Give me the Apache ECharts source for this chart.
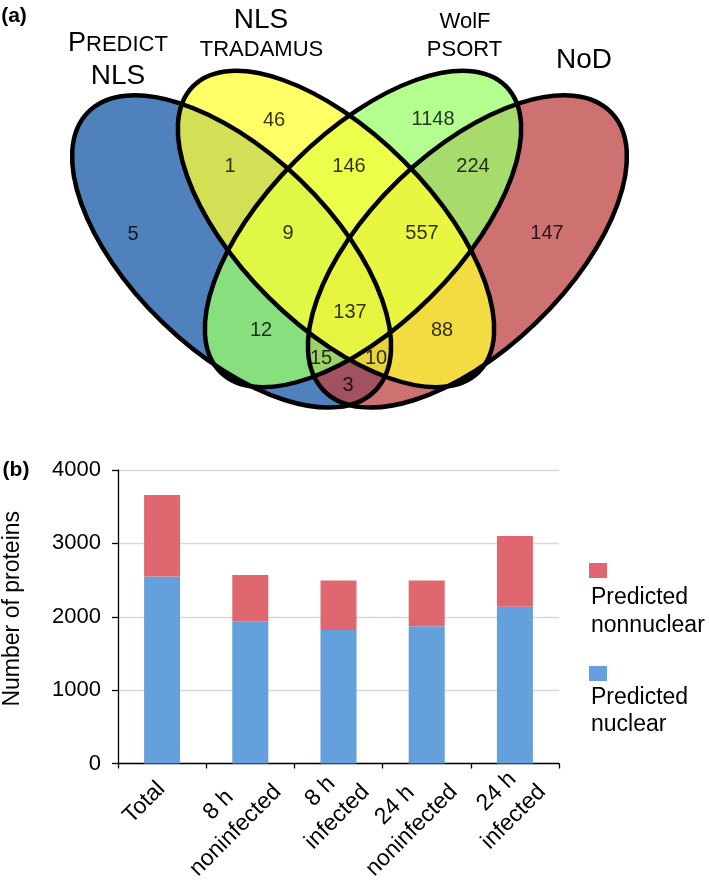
<!DOCTYPE html>
<html>
<head>
<meta charset="utf-8">
<script src="https://cdn.jsdelivr.net/npm/echarts@6/dist/echarts.min.js"></script>
<style>
html,body{margin:0;padding:0;background:#ffffff;}
#chart{width:709px;height:882px;}
</style>
</head>
<body>
<div id="chart"></div>
<script>
// ---------------- data ----------------
// (a) Venn diagram: set names and region counts
const setNames = [['PREDICT', 'NLS'], ['NLS', 'TRADAMUS'], ['WolF', 'PSORT'], ['NoD']];
const regionCounts = [5, 46, 1, 146, 1148, 224, 9, 557, 147, 137, 12, 88, 15, 10, 3];

// (b) stacked bars
const categories = ['Total', '8 h\nnoninfected', '8 h\ninfected', '24 h\nnoninfected', '24 h\ninfected'];
const predictedNuclear = [2550, 1940, 1820, 1870, 2135];
const predictedNonnuclear = [1110, 630, 675, 625, 965];
const seriesNames = ['Predicted nuclear', 'Predicted nonnuclear'];
const yMin = 0, yMax = 4000, yInterval = 1000;

// ---------------- layout / style ----------------
const FONT = '"Liberation Sans", Arial, Helvetica, sans-serif';
const XFS = 23;
// label positions of the Venn regions (in the Venn panel's pixel frame)
const regionLabelPos = [[133,234],[274,120],[230,166],[349,166],[433,119],[473,166],
  [288,233],[422,233],[547,233],[350,312],[261,330],[442,330],[321,358],[376,358],[348,385]];
// ellipse geometry: cx, cy, rx, ry, clockwise tilt (deg); draw order blue, red, green, yellow
const ellipseGeom = [[231.6,251.4,200,99,44],[467.4,251.4,200,99,-44],[363,229,202,96,-45],[336,229,202,96,45]];
const ellipseFill = ['#1457A7', '#BC4242', '#9AFF6A', '#FFFF33'];
const barBlue = '#64A0DC', barRed = '#E0676F';

function ellipseRender(fillMode) {
  return function (params, api) {
    const c = api.coord([api.value(0), api.value(1)]);
    const s = api.size([api.value(2), api.value(3)]);
    return {
      type: 'ellipse',
      x: c[0], y: c[1],
      rotation: -api.value(4) * Math.PI / 180,
      shape: { cx: 0, cy: 0, rx: Math.abs(s[0]), ry: Math.abs(s[1]) },
      style: fillMode
        ? { fill: ellipseFill[params.dataIndex], opacity: 0.75 }
        : { fill: 'none', stroke: '#000', lineWidth: 4.5 }
    };
  };
}

function txt(x, y, text, size, align, bold) {
  return {
    type: 'text', x: x, y: y, silent: true,
    style: {
      text: text, fill: '#000',
      font: (bold ? 'bold ' : '') + size + 'px ' + FONT,
      align: align, verticalAlign: 'middle',
      textAlign: align, textVerticalAlign: 'middle'
    }
  };
}

// rich styles for the rotated category labels (lines centred on each other)
const measureCtx = document.createElement('canvas').getContext('2d');
measureCtx.font = XFS + 'px ' + FONT;
const xRich = {};
categories.forEach(function (cat, i) {
  const lines = cat.split('\n');
  const W = Math.max.apply(null, lines.map(function (l) { return measureCtx.measureText(l).width; }));
  if (lines.length > 1) {
    xRich['f' + i] = { fontSize: XFS, fontFamily: FONT, color: '#000', lineHeight: 30, align: 'center',
      padding: [0, Math.max(0, W - 59), 0, 0] };
    xRich['c' + i] = { fontSize: XFS, fontFamily: FONT, color: '#000', lineHeight: 30, align: 'center',
      padding: [0, Math.max(0, W - 47), 0, 0] };
  } else {
    xRich['c' + i] = { fontSize: XFS, fontFamily: FONT, color: '#000', align: 'center',
      padding: [0, Math.max(0, W - 12), 14, 0] };
  }
});

const chart = echarts.init(document.getElementById('chart'), null, { renderer: 'canvas' });

const option = {
  animation: false,
  backgroundColor: '#ffffff',
  textStyle: { fontFamily: FONT },
  grid: [
    { left: 0, top: 0, width: 709, height: 440, outerBoundsMode: 'none' },
    { left: 118, top: 470, width: 441, height: 293.5, outerBoundsMode: 'none' }
  ],
  xAxis: [
    { type: 'value', gridIndex: 0, min: 0, max: 709, show: false },
    {
      type: 'category', gridIndex: 1, data: categories,
      axisLine: { show: true, lineStyle: { color: '#000', width: 1.3 } },
      axisTick: { show: true, interval: 0, length: 5, lineStyle: { color: '#000', width: 1.3 } },
      splitLine: { show: false },
      axisLabel: {
        interval: 0, rotate: 45, margin: 31, color: '#000',
        align: 'center', verticalAlign: 'middle',
        formatter: function (val, idx) {
          const lines = val.split('\n');
          return lines.map(function (s, k) {
            const st = (lines.length > 1 && k === 0) ? 'f' : 'c';
            return '{' + st + idx + '|' + s + '}';
          }).join('\n');
        },
        rich: xRich
      }
    }
  ],
  yAxis: [
    { type: 'value', gridIndex: 0, min: 0, max: 440, inverse: true, show: false },
    {
      type: 'value', gridIndex: 1, min: yMin, max: yMax, interval: yInterval,
      axisLine: { show: true, lineStyle: { color: '#000', width: 1.3 } },
      axisTick: { show: true, length: 6, lineStyle: { color: '#000', width: 1.3 } },
      axisLabel: { fontSize: 22, margin: 17, color: '#000', fontFamily: FONT,
        formatter: function (v) { return String(v); } },
      splitLine: { show: true, lineStyle: { color: '#D9D9D9', width: 1.3 } },
      name: 'Number of proteins', nameLocation: 'middle', nameGap: 94,
      nameTextStyle: { fontSize: 23, color: '#000', fontFamily: FONT, padding: [0, 0, 0, 16] }
    }
  ],
  series: [
    {
      type: 'custom', name: 'ellipseFill', xAxisIndex: 0, yAxisIndex: 0, silent: true, z: 1,
      renderItem: ellipseRender(true), data: ellipseGeom
    },
    {
      type: 'custom', name: 'ellipseLine', xAxisIndex: 0, yAxisIndex: 0, silent: true, z: 2,
      renderItem: ellipseRender(false), data: ellipseGeom
    },
    {
      type: 'scatter', name: 'counts', xAxisIndex: 0, yAxisIndex: 0, silent: true, z: 3,
      symbolSize: 2, itemStyle: { color: 'rgba(0,0,0,0)' },
      data: regionLabelPos.map(function (p, i) { return [p[0], p[1], regionCounts[i]]; }),
      label: {
        show: true, position: 'inside', color: '#000', fontSize: 20, fontFamily: FONT,
        formatter: function (p) { return String(p.value[2]); }
      }
    },
    {
      type: 'bar', name: seriesNames[0], xAxisIndex: 1, yAxisIndex: 1, stack: 'all',
      barWidth: 36, itemStyle: { color: barBlue }, data: predictedNuclear, silent: true
    },
    {
      type: 'bar', name: seriesNames[1], xAxisIndex: 1, yAxisIndex: 1, stack: 'all',
      barWidth: 36, itemStyle: { color: barRed }, data: predictedNonnuclear, silent: true
    }
  ],
  graphic: [
    txt(14, 16.5, '(a)', 21, 'center', true),
    txt(16, 470.5, '(b)', 21, 'center', true),
    // set names
    txt(86, 43.6, setNames[0][0].charAt(0), 27, 'right'),
    txt(86, 45.4, setNames[0][0].slice(1), 22, 'left'),
    txt(118, 76.3, setNames[0][1], 28, 'center'),
    txt(261, 20.3, setNames[1][0], 28, 'center'),
    txt(261.5, 49.8, setNames[1][1], 22, 'center'),
    txt(465, 22.4, setNames[2][0], 22, 'center'),
    txt(464.5, 49.8, setNames[2][1], 22, 'center'),
    txt(584, 60.3, setNames[3][0], 28, 'center'),
    // legend
    { type: 'rect', silent: true, shape: { x: 589, y: 563, width: 18, height: 15 }, style: { fill: barRed } },
    txt(591, 598, 'Predicted', 23, 'left'),
    txt(591, 626, 'nonnuclear', 23, 'left'),
    { type: 'rect', silent: true, shape: { x: 589, y: 666, width: 18, height: 15 }, style: { fill: barBlue } },
    txt(591, 698, 'Predicted', 23, 'left'),
    txt(591, 725, 'nuclear', 23, 'left')
  ]
};
chart.setOption(option);
</script>
</body>
</html>
